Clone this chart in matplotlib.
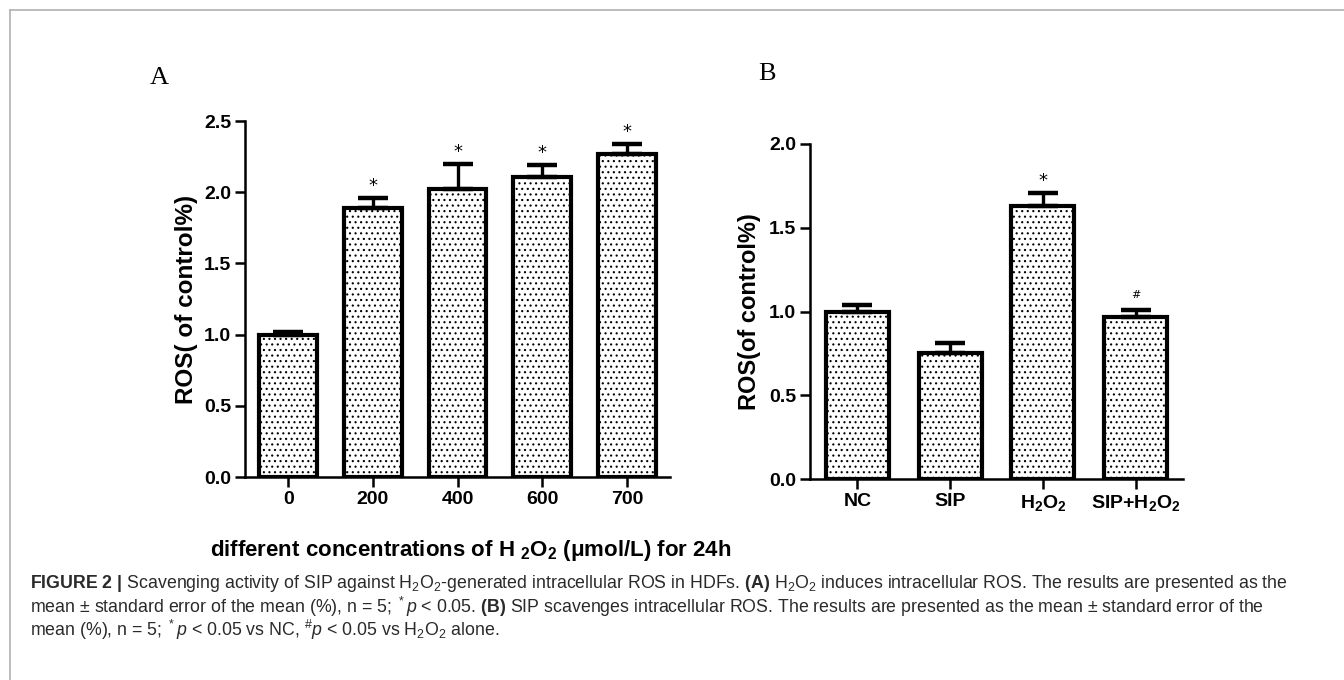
import matplotlib
matplotlib.use("Agg")
import matplotlib.pyplot as plt
from matplotlib import font_manager
from matplotlib.lines import Line2D

# ── Dados ───────────────────────────────────────────────────────────────────
conc_labels = ["0", "200", "400", "600", "700"]
ros_a       = [1.00, 1.89, 2.02, 2.11, 2.27]
sem_a       = [0.02, 0.07, 0.18, 0.08, 0.07]
sig_a       = ["", "*", "*", "*", "*"]

group_labels = ["NC", "SIP", r"H$_\mathbf{2}$O$_\mathbf{2}$", r"SIP+H$_\mathbf{2}$O$_\mathbf{2}$"]
ros_b        = [1.00, 0.755, 1.63, 0.97]
sem_b        = [0.04, 0.055, 0.08, 0.04]
sig_b        = ["", "", "*", "#"]

# ── Fontes ──────────────────────────────────────────────────────────────────
names = {f.name for f in font_manager.fontManager.ttflist}
narrow = "Liberation Sans Narrow" if "Liberation Sans Narrow" in names else "Liberation Sans"

plt.rcParams.update({
    "font.family": [narrow, "DejaVu Sans"],
    "mathtext.fontset": "custom",
    "mathtext.rm": narrow,
    "mathtext.it": narrow + ":italic",
    "mathtext.bf": narrow + ":bold",
    "hatch.color": "#a6a6a6",
    "hatch.linewidth": 0.8,
})

fig = plt.figure(figsize=(13.44, 6.8), dpi=100)

# moldura cinza (topo e esquerda)
fig.add_artist(Line2D([9.5 / 1344, 1], [1 - 10 / 680, 1 - 10 / 680], color="#b0b0b0", lw=1.2))
fig.add_artist(Line2D([9.5 / 1344, 9.5 / 1344], [0, 1 - 10 / 680], color="#b0b0b0", lw=1.2))


def draw_panel(ax, labels, vals, errs, sigs, ymax, step, width=0.68):
    x = list(range(len(vals)))
    ax.bar(x, vals, width=width, color="white", edgecolor="black", linewidth=3,
           hatch="...", zorder=2)
    ax.errorbar(x, vals, yerr=[[0] * len(errs), errs], fmt="none", ecolor="black",
                elinewidth=2.4, capsize=11, capthick=3.2, zorder=3)
    for xi, v, e, s in zip(x, vals, errs, sigs):
        if s == "*":
            ax.text(xi, v + e + ymax * 0.008, s, ha="center", va="bottom",
                    fontsize=13, family="DejaVu Sans")
        elif s == "#":
            ax.text(xi, v + e + ymax * 0.03, s, ha="center", va="bottom",
                    fontsize=8, family="DejaVu Sans")
    for side in ["top", "right"]:
        ax.spines[side].set_visible(False)
    for side in ["left", "bottom"]:
        ax.spines[side].set_linewidth(1.8)
    ax.set_ylim(0, ymax)
    ax.set_xlim(-0.51, len(vals) - 0.49)
    ticks = [i * step for i in range(int(round(ymax / step)) + 1)]
    ax.set_yticks(ticks)
    ax.set_yticklabels([f"{t:.1f}" for t in ticks], fontsize=14, fontweight="bold")
    ax.set_xticks(x)
    ax.set_xticklabels(labels, fontsize=14, fontweight="bold")
    ax.tick_params(axis="both", length=7, width=1.8, pad=3)


# ── Painel A ─────────────────────────────────────────────────────────────────
axA = fig.add_axes([245 / 1344, 1 - 477 / 680, 425 / 1344, 356 / 680])
draw_panel(axA, conc_labels, ros_a, sem_a, sig_a, 2.5, 0.5)
axA.set_ylabel("ROS( of control%)", fontsize=17.5, fontweight="bold", labelpad=4)
axA.set_xlabel(r"different concentrations of H $_\mathbf{2}$O$_\mathbf{2}$ (μmol/L) for 24h",
               fontsize=16, fontweight="bold", labelpad=18)
axA.xaxis.set_label_coords(0.53, -0.17)
fig.text(150 / 1344, 1 - 78 / 680, "A", fontsize=19, family="Liberation Serif",
         ha="left", va="center")

# ── Painel B ─────────────────────────────────────────────────────────────────
axB = fig.add_axes([810 / 1344, 1 - 479 / 680, 373 / 1344, 335 / 680])
draw_panel(axB, group_labels, ros_b, sem_b, sig_b, 2.0, 0.5)
axB.set_ylabel("ROS(of control%)", fontsize=17, fontweight="bold", labelpad=6)
fig.text(758 / 1344, 1 - 74 / 680, "B", fontsize=19, family="Liberation Serif",
         ha="left", va="center")

# ── Legenda da figura ────────────────────────────────────────────────────────
caption = [
    r"$\mathbf{FIGURE\ 2\ |}$ Scavenging activity of SIP against H$_2$O$_2$-generated intracellular ROS in HDFs. "
    r"$\mathbf{(A)}$ H$_2$O$_2$ induces intracellular ROS. The results are presented as the",
    r"mean ± standard error of the mean (%), n = 5; $^*\mathit{p}$ < 0.05. $\mathbf{(B)}$ SIP scavenges "
    r"intracellular ROS. The results are presented as the mean ± standard error of the",
    r"mean (%), n = 5; $^*\mathit{p}$ < 0.05 vs NC, $^\#\mathit{p}$ < 0.05 vs H$_2$O$_2$ alone.",
]
for i, line in enumerate(caption):
    fig.text(30 / 1344, 1 - (583 + i * 23.5) / 680, line, fontsize=12.8, color="#2a2a2a",
             ha="left", va="center")

fig.savefig("out.png", dpi=100)
